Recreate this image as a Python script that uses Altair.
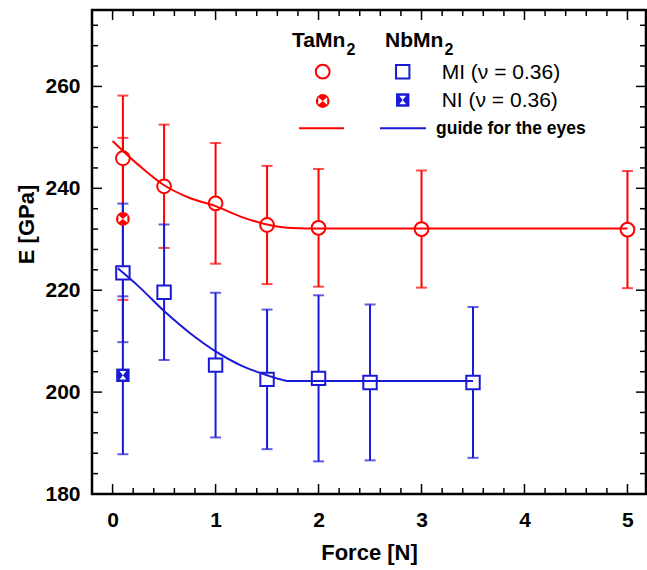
import altair as alt
import pandas as pd

# ---------------- data ----------------
force_ta_mi = [0.1, 0.5, 1.0, 1.5, 2.0, 3.0, 5.0]
e_ta_mi = [245.9, 240.4, 237.05, 232.8, 232.25, 232.0, 231.9]
err_ta_mi = [12.3, 12.1, 11.85, 11.6, 11.55, 11.5, 11.5]

force_ta_ni = [0.1]
e_ta_ni = [234.0]
err_ta_ni = [15.9]

force_nb_mi = [0.1, 0.5, 1.0, 1.5, 2.0, 2.5, 3.5]
e_nb_mi = [223.4, 219.6, 205.3, 202.5, 202.7, 201.9, 201.9]
err_nb_mi = [13.6, 13.3, 14.2, 13.7, 16.3, 15.3, 14.8]

force_nb_ni = [0.1]
e_nb_ni = [203.3]
err_nb_ni = [15.5]

guide_ta_x = [0.0, 0.25, 0.5, 0.75, 1.0, 1.25, 1.5, 1.75, 2.0, 5.0]
guide_ta_y = [249.3, 244.6, 240.6, 238.1, 236.5, 234.4, 232.9, 232.2, 232.1, 232.1]
guide_nb_x = [0.05, 0.25, 0.5, 0.75, 1.0, 1.25, 1.5, 1.65, 1.7, 3.5]
guide_nb_y = [224.3, 220.8, 215.9, 211.6, 208.0, 205.2, 203.3, 202.4, 202.2, 202.2]

x_major = [0, 1, 2, 3, 4, 5]
x_minor = [0.2, 0.4, 0.6, 0.8, 1.2, 1.4, 1.6, 1.8, 2.2, 2.4, 2.6, 2.8,
           3.2, 3.4, 3.6, 3.8, 4.2, 4.4, 4.6, 4.8]
y_labels = [180, 200, 220, 240, 260]
y_major = [200, 220, 240, 260]
y_minor = [184, 188, 192, 196, 204, 208, 212, 216, 224, 228, 232, 236,
           244, 248, 252, 256, 264, 268, 272]

# ---------------- style ----------------
RED = "#ff0000"
BLUE = "#1a1ad6"
FONT = "Liberation Sans"
W, H = 554, 484
MAJ, MIN = 10, 6

xs = alt.Scale(domain=[-0.2, 5.18], nice=False, zero=False)
ys = alt.Scale(domain=[180, 275], nice=False, zero=False)

xaxis = alt.Axis(values=x_major, ticks=False, tickSize=0, domain=False, grid=False,
                 labelFont=FONT, labelFontSize=21, labelFontWeight="bold",
                 labelColor="black", labelPadding=15, format="d",
                 title="Force [N]", titleFont=FONT, titleFontSize=22,
                 titleFontWeight="bold", titleColor="black",
                 titleY=65, titleBaseline="alphabetic")
yaxis = alt.Axis(values=y_labels, ticks=False, tickSize=0, domain=False, grid=False,
                 labelFont=FONT, labelFontSize=21, labelFontWeight="bold",
                 labelColor="black", labelPadding=12, format="d",
                 title="E [GPa]", titleFont=FONT, titleFontSize=22,
                 titleFontWeight="bold", titleColor="black",
                 titleAngle=270, titleX=-59, titleY=214, titleAlign="center",
                 titleBaseline="alphabetic")


def X(f="x"):
    return alt.X(f"{f}:Q", scale=xs, axis=xaxis)


def Y(f="y"):
    return alt.Y(f"{f}:Q", scale=ys, axis=yaxis)


def frame(xv, yv, ev=None):
    d = pd.DataFrame({"x": xv, "y": yv})
    if ev is not None:
        d["lo"] = d["y"] - pd.Series(ev)
        d["hi"] = d["y"] + pd.Series(ev)
    return d


def errbars(xv, yv, ev, color):
    d = frame(xv, yv, ev)
    base = alt.Chart(d)
    rule = base.mark_rule(color=color, strokeWidth=2).encode(x=X(), y=Y("lo"), y2="hi")
    cap_lo = base.mark_tick(color=color, orient="horizontal", size=11, thickness=2).encode(x=X(), y=Y("lo"))
    cap_hi = base.mark_tick(color=color, orient="horizontal", size=11, thickness=2).encode(x=X(), y=Y("hi"))
    return [rule, cap_lo, cap_hi]


BOWTIE = "M-0.8,-0.65L0,0L-0.8,0.65Z M0.8,-0.65L0,0L0.8,0.65Z"
HOURGLASS = "M-0.6,-0.75L0.6,-0.75L0,0Z M-0.6,0.75L0.6,0.75L0,0Z"


def open_marker(shape, size, color):
    return dict(shape=shape, size=size, fill="white", stroke=color, strokeWidth=2,
                filled=True, fillOpacity=1, opacity=1)


layers = []

# inward ticks on all four sides
for vals, L in ((x_major, MAJ), (x_minor, MIN)):
    td = pd.DataFrame({"x": vals})
    layers.append(alt.Chart(td).mark_rule(color="black", strokeWidth=1.5).encode(
        x=X(), y=alt.value(H), y2=alt.value(H - L)))
    layers.append(alt.Chart(td).mark_rule(color="black", strokeWidth=1.5).encode(
        x=X(), y=alt.value(0), y2=alt.value(L)))
for vals, L in ((y_major, MAJ), (y_minor, MIN)):
    td = pd.DataFrame({"y": vals})
    layers.append(alt.Chart(td).mark_rule(color="black", strokeWidth=1.5).encode(
        y=Y(), x=alt.value(0), x2=alt.value(L)))
    layers.append(alt.Chart(td).mark_rule(color="black", strokeWidth=1.5).encode(
        y=Y(), x=alt.value(W), x2=alt.value(W - L)))

# error bars (red first, blue on top)
layers += errbars(force_ta_mi, e_ta_mi, err_ta_mi, RED)
layers += errbars(force_ta_ni, e_ta_ni, err_ta_ni, RED)
layers += errbars(force_nb_mi, e_nb_mi, err_nb_mi, BLUE)
layers += errbars(force_nb_ni, e_nb_ni, err_nb_ni, BLUE)

# markers
layers.append(alt.Chart(frame(force_ta_mi, e_ta_mi)).mark_point(
    **open_marker("circle", 190, RED)).encode(x=X(), y=Y()))
layers.append(alt.Chart(frame(force_nb_mi, e_nb_mi)).mark_point(
    **open_marker("square", 180, BLUE)).encode(x=X(), y=Y()))
layers.append(alt.Chart(frame(force_ta_ni, e_ta_ni)).mark_point(
    shape="circle", size=190, filled=True, color=RED, opacity=1).encode(x=X(), y=Y()))
layers.append(alt.Chart(frame(force_ta_ni, e_ta_ni)).mark_point(
    shape=BOWTIE, size=125, filled=True, color="white", opacity=1).encode(x=X(), y=Y()))
layers.append(alt.Chart(frame(force_nb_ni, e_nb_ni)).mark_point(
    shape="square", size=180, filled=True, color=BLUE, opacity=1).encode(x=X(), y=Y()))
layers.append(alt.Chart(frame(force_nb_ni, e_nb_ni)).mark_point(
    shape=HOURGLASS, size=130, filled=True, color="white", opacity=1).encode(x=X(), y=Y()))

# guide-for-the-eyes curves
layers.append(alt.Chart(frame(guide_ta_x, guide_ta_y)).mark_line(
    color=RED, strokeWidth=2, interpolate="monotone").encode(x=X(), y=Y()))
layers.append(alt.Chart(frame(guide_nb_x, guide_nb_y)).mark_line(
    color=BLUE, strokeWidth=2, interpolate="monotone").encode(x=X(), y=Y()))

# ---------------- in-plot legend ----------------
one = alt.Data(values=[{"k": 0}])


def ltext(txt, px, py, size, weight="bold", baseline="alphabetic"):
    return alt.Chart(one).mark_text(text=txt, font=FONT, fontSize=size, fontWeight=weight,
                                    color="black", align="left", baseline=baseline).encode(
        x=alt.value(px), y=alt.value(py))


def lpoint(px, py, **kw):
    return alt.Chart(one).mark_point(**kw).encode(x=alt.value(px), y=alt.value(py))


def lline(x1, x2, py, color):
    return alt.Chart(one).mark_rule(color=color, strokeWidth=2).encode(
        x=alt.value(x1), x2=alt.value(x2), y=alt.value(py))


layers += [
    ltext("TaMn", 200, 37, 21), ltext("2", 254.5, 45, 16),
    ltext("NbMn", 293, 37, 21), ltext("2", 352.5, 45, 16),
    lpoint(230.7, 61.7, **open_marker("circle", 190, RED)),
    lpoint(310.7, 61.7, **open_marker("square", 180, BLUE)),
    ltext("MI (\u03bd = 0.36)", 349.7, 63, 21, weight="normal", baseline="middle"),
    lpoint(230.7, 91, shape="circle", size=190, filled=True, color=RED, opacity=1),
    lpoint(230.7, 91, shape=BOWTIE, size=125, filled=True, color="white", opacity=1),
    lpoint(310.7, 90, shape="square", size=180, filled=True, color=BLUE, opacity=1),
    lpoint(310.7, 90, shape=HOURGLASS, size=130, filled=True, color="white", opacity=1),
    ltext("NI (\u03bd = 0.36)", 349.7, 91, 21, weight="normal", baseline="middle"),
    lline(207, 252, 118.3, RED),
    lline(288, 334, 118.3, BLUE),
    ltext("guide for the eyes", 344, 119, 17.5, baseline="middle"),
]

chart = alt.layer(*layers).properties(
    width=W, height=H,
    autosize=alt.AutoSizeParams(type="none"),
    padding={"left": 92, "top": 10, "right": 1, "bottom": 76},
).configure_view(stroke="black", strokeWidth=2.5)

chart.save("out.html", embed_options={"renderer": "svg", "actions": False})
